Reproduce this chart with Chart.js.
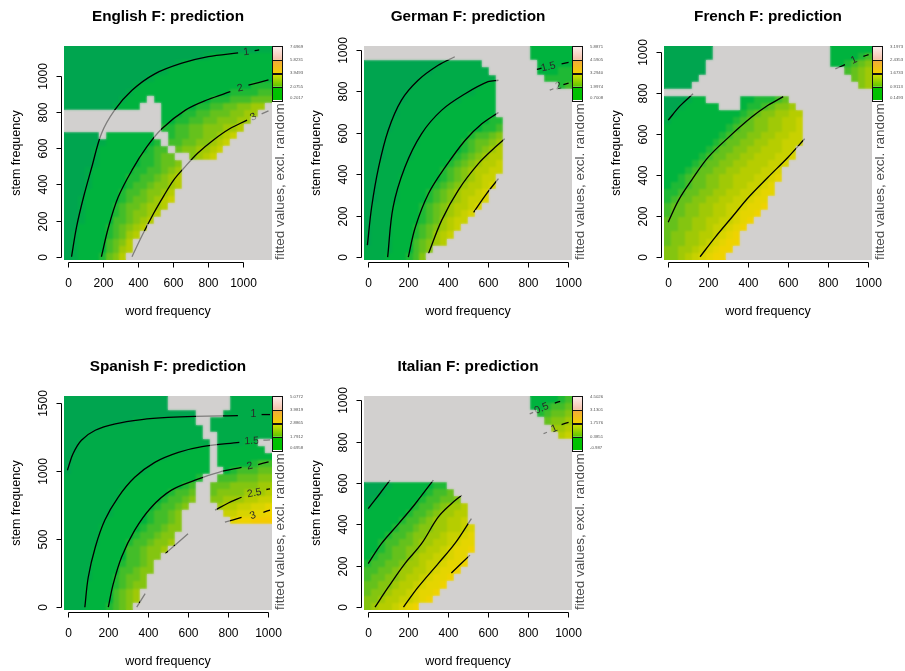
<!DOCTYPE html>
<html>
<head>
<meta charset="utf-8">
<title>F prediction</title>
<script src="https://cdn.jsdelivr.net/npm/chart.js@4.4.1/dist/chart.umd.min.js"></script>
<style>
  html, body { margin:0; padding:0; background:#ffffff; }
  #page { position:relative; width:905px; height:671px; overflow:hidden; background:#ffffff; }
  #page canvas { position:absolute; left:0; top:0; }
</style>
</head>
<body>
<div id="page"></div>
<script>
// ======================= DATA =======================
const titles = ["English F: prediction", "German F: prediction", "French F: prediction", "Spanish F: prediction", "Italian F: prediction"];
const xAxisTitle = "word frequency";
const yAxisTitle = "stem frequency";
const legendTitle = "fitted values, excl. random";

// axis ranges (word frequency, stem frequency)
const xRangeEnglish = [-21, 1163];  const yRangeEnglish = [-18, 1166];
const xRangeGerman  = [-18, 1020];  const yRangeGerman  = [-13, 1018];
const xRangeFrench  = [-18, 1020];  const yRangeFrench  = [-16, 1031];
const xRangeSpanish = [-18, 1020];  const yRangeSpanish = [-20, 1548];
const xRangeItalian = [-18, 1020];  const yRangeItalian = [-13, 1020];

// tick labels
const xTicks = [0, 200, 400, 600, 800, 1000];
const yTicksThousand = [0, 200, 400, 600, 800, 1000];
const yTicksSpanish = [0, 500, 1000, 1500];

// colour-key labels (bottom to top)
const legendEnglish = ["0.2017", "2.0755", "3.9493", "5.8231", "7.6969"];
const legendGerman  = ["0.7008", "1.9974", "3.2940", "4.5905", "5.8871"];
const legendFrench  = ["0.1493", "0.9113", "1.6733", "2.4353", "3.1973"];
const legendSpanish = ["0.6958", "1.7912", "2.8865", "3.9819", "5.0772"];
const legendItalian = ["-0.987", "0.3851", "1.7576", "3.1301", "4.5026"];

// fitted-value level per grid cell (30 x 30, top row first, left column first)
// 0..9,a..d = increasing fitted value (green -> yellow), '.' = too far from data (grey)
const gridEnglish = [
"000000000000000000000000000011",
"000000000000000000001222222222",
"000000000000000012222222222222",
"000000000000001222222222222222",
"000000000000122222222222222222",
"000000000012222222222222222333",
"000000000122222222222222333344",
"000000001222.22222222333444555",
"00000001222...222223344556677.",
"..............22233445556677..",
"..............2233445566677...",
"..............334455666778....",
"00000.2222222..3445566789.....",
"00000122222223.445566789......",
"000012222222344.5667789.......",
"0000122222233455..6789........",
"00001222222334556.............",
"00012222223344567.............",
"00012222233445678.............",
"00012222234456678.............",
"0002222234456678..............",
"0012222234556789..............",
"001222234556778...............",
"00122223456678................",
"0012222445678.................",
"002222345678..................",
"01222234578...................",
"0122224568....................",
"0122224578....................",
"012223568....................."
];
const gridGerman = [
"........................222222",
"........................222222",
"00000000000111111........22222",
"000000000011111111.......22233",
"0000000011111111111.......3333",
"0000000111111111122.........34",
"0000001111111111222...........",
"0000001111111122222...........",
"0000011111112222222...........",
"0000011111122222222...........",
"00001111112222222233..........",
"00001111122222222334..........",
"00011111222222234456..........",
"00011111222222345567..........",
"00011112222222345678..........",
"00011112222223456788..........",
"00111122222234567889..........",
"00111122222345678899..........",
"0011122222234567899...........",
"001112222234567889a...........",
"00111222234567889a............",
"00111222234567899a............",
"0111222234567889a.............",
"011122223456789a..............",
"011122223457899...............",
"01112223456789................",
"0111222345789.................",
"011122245678..................",
"1111222456....................",
"111222346....................."
];
const gridFrench = [
"0000000.................222222",
"0000000.................222234",
"000000..................223456",
"000000....................4567",
"00000......................567",
"0000........................67",
"..............................",
"000122.....2233345............",
"00122222...23345667...........",
"01222222222345667788..........",
"12222222223456677889..........",
"22222222234556677889..........",
"22222222345566778899..........",
"22222223455667788999..........",
"2222223455667788899...........",
"222223455667788899a...........",
"22223455667788899a............",
"2223455667788899a.............",
"223455667788899ab.............",
"23345566778899ab..............",
"3345566778899abb..............",
"345566778899abb...............",
"45566778899abbc...............",
"4556677889abbc................",
"5566778899abc.................",
"556677899abc..................",
"56677889abc...................",
"5667789abcc...................",
"667789abcc....................",
"66789abcc....................."
];
const gridSpanish = [
"000000000000000.........111111",
"000000000000000.........111111",
"0000000000000000000....1111111",
"0000000000111111111..111111111",
"00000111111111111111.111111111",
"00011111111111111111..11111111",
"001111111111111111111.111122..",
"001111111111111111222.2222222.",
"011111111111111222222.22222222",
"011111111111122222222.22222344",
"011111111111222222222..2344455",
"11111111112222222223..44455566",
"1111111112222222234..555666677",
"1111111122222223445..566667778",
"1111111122222234456..667778899",
"111111122222234456....78899aab",
"11111112222234456......99aabbc",
"111111222222344 56.......bccddd".replace(" ", ""),
"11111222222344566.............",
"1111122222344566..............",
"1111122223445667..............",
"111122222445667...............",
"11112222244566................",
"1111222234456.................",
"1111222244566.................",
"111122234556..................",
"111222234566..................",
"11122224567...................",
"11122224567...................",
"1112223456...................."
];
const gridItalian = [
"........................222234",
"........................223445",
".........................34556",
"..........................5667",
"...........................778",
"............................89",
"..............................",
"..............................",
"..............................",
"..............................",
"..............................",
"..............................",
"000122222233",
"0012222223445",
"01222222344556",
"122222234456778",
"222222344567788",
"222223445677889",
"222234456677889a",
"22234456677899ab",
"2234455677889abb",
"223455667889abbc",
"234455678899abb",
"34455677899abbc",
"4455677889abbc",
"455667889abbc",
"55667889abbc",
"5667889abbc",
"6678899abc",
"67889abc"
];

// contour lines: [word frequency, stem frequency] points
const contoursEnglish = [
  [[22,0],[50,163],[90,329],[137,495],[192,681],[267,811],[366,921],[496,1012],[650,1071],[800,1107],[970,1128]],
  [[1064,1140],[1090,1144]],
  [[192,0],[232,163],[287,329],[366,479],[449,606],[536,708],[670,811],[800,870],[926,913]],
  [[1029,950],[1143,978]],
  [[366,0],[425,120],[488,238],[547,337],[603,424],[658,487],[741,574],[828,645],[922,708],[1021,756]],
  [[1104,791],[1143,807]]
];
const labelsEnglish = [["1", 1017, 1133], ["2", 981, 932], ["3", 1057, 772]];

const contoursGerman = [
  [[-1,59],[20,241],[55,434],[103,612],[169,757],[252,853],[352,925],[435,966]],
  [[100,1],[127,241],[186,434],[269,595],[370,709],[487,788],[601,846],[653,853]],
  [[203,1],[238,145],[304,307],[387,434],[487,564],[570,643],[653,698]],
  [[304,18],[370,179],[453,324],[553,451],[636,530],[684,571]],
  [[529,217],[594,307],[653,379]],
  [[844,905],[868,911]],
  [[968,932],[1003,939]],
  [[909,805],[927,812]],
  [[977,832],[1003,839]]
];
const labelsGerman = [["1.5", 902, 917], ["2", 952, 824]];

const contoursFrench = [
  [[3,668],[62,738],[127,797]],
  [[3,169],[55,277],[120,375],[203,487],[304,584],[418,682],[501,741],[577,783]],
  [[162,0],[238,96],[321,193],[404,291],[501,389],[601,487],[684,577]],
  [[837,919],[885,940]],
  [[977,980],[1003,989]]
];
const labelsFrench = [["1", 930, 962]];

const contoursSpanish = [
  [[-1,1004],[27,1125],[69,1224],[138,1297],[238,1344],[370,1375],[501,1391],[636,1399],[850,1404]],
  [[968,1412],[1010,1412]],
  [[86,0],[103,220],[138,440],[186,639],[252,806],[335,952],[435,1062],[553,1135],[671,1177],[857,1208]],
  [[977,1224],[1010,1226]],
  [[203,1],[228,173],[269,367],[335,565],[418,733],[518,858],[636,931],[754,989],[868,1025]],
  [[951,1046],[1003,1065]],
  [[345,1],[387,100]],
  [[487,393],[601,539]],
  [[736,712],[802,764],[868,806]],
  [[992,863],[1010,868]],
  [[785,623],[868,659]],
  [[977,696],[1010,712]]
];
const labelsSpanish = [["1", 927, 1412], ["1.5", 918, 1217], ["2", 909, 1034], ["2.5", 932, 836], ["3", 925, 672]];

const contoursItalian = [
  [[3,476],[55,541],[112,614]],
  [[3,211],[69,307],[155,404],[238,500],[328,614]],
  [[37,1],[103,97],[186,211],[269,307],[352,435],[418,500],[470,541]],
  [[179,1],[252,97],[352,211],[435,307],[518,428]],
  [[418,166],[511,252]],
  [[809,934],[826,941]],
  [[934,986],[961,994]],
  [[878,838],[895,845]],
  [[968,882],[1003,893]]
];
const labelsItalian = [["0.5", 868, 960], ["1", 932, 862]];

// ======================= STYLE / LAYOUT =======================
const W = 905, H = 671;
const FONT = '"Liberation Sans", Arial, Helvetica, sans-serif';
const plotBoxes = [
  {left: 64,  top: 46,  right: 272, bottom: 260},
  {left: 364, top: 46,  right: 572, bottom: 260},
  {left: 664, top: 46,  right: 872, bottom: 260},
  {left: 64,  top: 396, right: 272, bottom: 610},
  {left: 364, top: 396, right: 572, bottom: 610}
];
const cellColors = {
  '0':'#00a54f','1':'#00ab48','2':'#00b33e','3':'#1fb935','4':'#43bd29','5':'#65c11c',
  '6':'#84c510','7':'#a0c906','8':'#b6cd00','9':'#c8d100','a':'#d8d400','b':'#e5d500',
  'c':'#efd300','d':'#f4cb00'
};
const naColor = '#d3d0cf';
const keyBoxes = [ ['#00c000', '#00c400'], ['#5ec600', '#e2e200'], ['#f2d000', '#f3a640'], ['#f4c2ab', '#fdf1f1'] ];

const panels = [
  {title: titles[0], grid: gridEnglish, xr: xRangeEnglish, yr: yRangeEnglish, yTicks: yTicksThousand, key: legendEnglish, lines: contoursEnglish, labels: labelsEnglish},
  {title: titles[1], grid: gridGerman,  xr: xRangeGerman,  yr: yRangeGerman,  yTicks: yTicksThousand, key: legendGerman,  lines: contoursGerman,  labels: labelsGerman},
  {title: titles[2], grid: gridFrench,  xr: xRangeFrench,  yr: yRangeFrench,  yTicks: yTicksThousand, key: legendFrench,  lines: contoursFrench,  labels: labelsFrench},
  {title: titles[3], grid: gridSpanish, xr: xRangeSpanish, yr: yRangeSpanish, yTicks: yTicksSpanish,  key: legendSpanish, lines: contoursSpanish, labels: labelsSpanish},
  {title: titles[4], grid: gridItalian, xr: xRangeItalian, yr: yRangeItalian, yTicks: yTicksThousand, key: legendItalian, lines: contoursItalian, labels: labelsItalian}
];

// ======================= DRAWING =======================
function paintCells(chart, p, onlyNA) {
  const {x, y} = chart.scales;
  const off = document.createElement('canvas');
  off.width = chart.width; off.height = chart.height;
  const o = off.getContext('2d');
  const nx = 30, ny = p.grid.length;
  const dx = (p.xr[1] - p.xr[0]) / nx, dy = (p.yr[1] - p.yr[0]) / ny;
  for (let r = 0; r < ny; r++) {
    const row = p.grid[r];
    const ya = Math.round(y.getPixelForValue(p.yr[1] - r * dy));
    const yb = Math.round(y.getPixelForValue(p.yr[1] - (r + 1) * dy));
    for (let c = 0; c < nx; c++) {
      const code = row[c] || '.';
      const isNA = !(code in cellColors);
      if (onlyNA && !isNA) continue;
      const xa = Math.round(x.getPixelForValue(p.xr[0] + c * dx));
      const xb = Math.round(x.getPixelForValue(p.xr[0] + (c + 1) * dx));
      o.fillStyle = isNA ? naColor : cellColors[code];
      o.fillRect(xa, ya, xb - xa, yb - ya);
    }
  }
  return off;
}

function labelAngle(chart, lines, px, py) {
  const {x, y} = chart.scales;
  let best = null, bd = Infinity;
  lines.forEach(line => {
    const pts = line.map(q => [x.getPixelForValue(q[0]), y.getPixelForValue(q[1])]);
    pts.forEach((pt, k) => {
      const d = Math.hypot(pt[0] - px, pt[1] - py);
      if (d < bd) { bd = d; best = {pts, k}; }
    });
  });
  if (!best || best.pts.length < 2) return 0;
  const {pts, k} = best;
  const a = k === 0 ? pts[0] : pts[k - 1];
  const b = k === 0 ? pts[1] : pts[k];
  let ang = Math.atan2(b[1] - a[1], b[0] - a[0]);
  if (ang > Math.PI / 2) ang -= Math.PI;
  if (ang < -Math.PI / 2) ang += Math.PI;
  return ang;
}

function makePanelPlugin(p) {
  return {
    id: 'panel',
    beforeDatasetsDraw(chart) {
      const {ctx, chartArea: a} = chart;
      const base = paintCells(chart, p, false);
      ctx.save();
      ctx.beginPath(); ctx.rect(a.left, a.top, a.right - a.left, a.bottom - a.top); ctx.clip();
      ctx.drawImage(base, 0, 0);
      ctx.filter = 'blur(0.8px)';
      ctx.drawImage(base, 0, 0);
      ctx.restore();
    },
    afterDatasetsDraw(chart) {
      const {ctx, chartArea: a, scales: {x, y}} = chart;
      // contour labels
      ctx.save();
      ctx.fillStyle = '#2a2a2a';
      ctx.font = '10.5px ' + FONT;
      ctx.textAlign = 'center'; ctx.textBaseline = 'middle';
      p.labels.forEach(l => {
        const px = x.getPixelForValue(l[1]), py = y.getPixelForValue(l[2]);
        const ang = labelAngle(chart, p.lines, px, py);
        ctx.save(); ctx.translate(px, py); ctx.rotate(ang); ctx.fillText(l[0], 0, 0); ctx.restore();
      });
      ctx.restore();
      // semi-transparent grey over the area too far from data
      const ov = paintCells(chart, p, true);
      ctx.save();
      ctx.beginPath(); ctx.rect(a.left, a.top, a.right - a.left, a.bottom - a.top); ctx.clip();
      ctx.globalAlpha = 0.6;
      ctx.filter = 'blur(0.6px)';
      ctx.drawImage(ov, 0, 0);
      ctx.restore();
    },
    afterDraw(chart) {
      const {ctx, chartArea: a, scales: {x, y}} = chart;
      ctx.save();
      ctx.strokeStyle = '#000'; ctx.fillStyle = '#000'; ctx.lineWidth = 1;
      // x axis
      const xs = xTicks.map(v => Math.round(x.getPixelForValue(v)) + 0.5);
      const ax = Math.round(a.bottom + 2) + 0.5;
      ctx.beginPath();
      ctx.moveTo(xs[0], ax); ctx.lineTo(xs[xs.length - 1], ax);
      xs.forEach(px => { ctx.moveTo(px, ax); ctx.lineTo(px, ax + 5); });
      ctx.stroke();
      ctx.font = '12px ' + FONT; ctx.textAlign = 'center'; ctx.textBaseline = 'alphabetic';
      xTicks.forEach((v, i) => ctx.fillText(String(v), xs[i], a.bottom + 26.5));
      // y axis
      const ys = p.yTicks.map(v => Math.round(y.getPixelForValue(v)) + 0.5);
      const ay = Math.round(a.left - 2) - 0.5;
      ctx.beginPath();
      ctx.moveTo(ay, ys[0]); ctx.lineTo(ay, ys[ys.length - 1]);
      ys.forEach(py => { ctx.moveTo(ay, py); ctx.lineTo(ay - 5, py); });
      ctx.stroke();
      p.yTicks.forEach((v, i) => {
        ctx.save(); ctx.translate(a.left - 17.3, ys[i]); ctx.rotate(-Math.PI / 2);
        ctx.fillText(String(v), 0, 0); ctx.restore();
      });
      // axis titles
      const cx = (a.left + a.right) / 2, cy = (a.top + a.bottom) / 2;
      ctx.font = '12.5px ' + FONT;
      ctx.fillText(xAxisTitle, cx, a.bottom + 55);
      ctx.save(); ctx.translate(a.left - 44.5, cy); ctx.rotate(-Math.PI / 2);
      ctx.fillText(yAxisTitle, 0, 0); ctx.restore();
      // title
      ctx.font = 'bold 15.3px ' + FONT;
      ctx.fillText(p.title, cx, a.top - 25);
      // colour key
      const kx = a.right, kw = 11, bh = 13.5;
      keyBoxes.forEach((cols, i) => {
        const y0 = a.top + (3 - i) * bh;
        const g = ctx.createLinearGradient(0, y0 + bh, 0, y0);
        g.addColorStop(0, cols[0]); g.addColorStop(1, cols[1]);
        ctx.fillStyle = g;
        ctx.fillRect(kx, y0, kw, bh);
      });
      ctx.strokeStyle = '#111'; ctx.lineWidth = 1;
      keyBoxes.forEach((cols, i) => {
        const y0 = Math.round(a.top + (3 - i) * bh) + 0.5;
        ctx.strokeRect(kx + 0.5, y0, kw - 1, Math.round(bh));
      });
      ctx.fillStyle = '#555';
      ctx.font = '4.3px ' + FONT; ctx.textAlign = 'left'; ctx.textBaseline = 'middle';
      p.key.forEach((t, k) => {
        let ty = a.top + (4 - k) * bh;
        if (k === 0) ty -= 2.5;
        if (k === 4) ty += 0.5;
        ctx.fillText(t, kx + 18, ty);
      });
      // key title (vertical)
      ctx.fillStyle = '#4a4a4a';
      ctx.font = '13.5px ' + FONT; ctx.textBaseline = 'alphabetic';
      ctx.save(); ctx.translate(a.right + 11.5, a.bottom); ctx.rotate(-Math.PI / 2);
      ctx.fillText(legendTitle, 0, 0); ctx.restore();
      ctx.restore();
    }
  };
}

const page = document.getElementById('page');
panels.forEach((p, i) => {
  const box = plotBoxes[i];
  const cv = document.createElement('canvas');
  cv.width = W; cv.height = H;
  cv.style.width = W + 'px'; cv.style.height = H + 'px';
  page.appendChild(cv);
  new Chart(cv.getContext('2d'), {
    type: 'scatter',
    data: {
      datasets: p.lines.map(line => ({
        data: line.map(pt => ({x: pt[0], y: pt[1]})),
        showLine: true, pointRadius: 0, pointHoverRadius: 0,
        borderColor: '#000', borderWidth: 1.3, tension: 0.35, fill: false
      }))
    },
    options: {
      responsive: false, animation: false, events: [],
      devicePixelRatio: 1,
      layout: {padding: {left: box.left, top: box.top, right: W - box.right, bottom: H - box.bottom}},
      scales: {
        x: {type: 'linear', min: p.xr[0], max: p.xr[1], display: false},
        y: {type: 'linear', min: p.yr[0], max: p.yr[1], display: false}
      },
      plugins: {legend: {display: false}, tooltip: {enabled: false}, title: {display: false}}
    },
    plugins: [makePanelPlugin(p)]
  });
});
</script>
</body>
</html>
